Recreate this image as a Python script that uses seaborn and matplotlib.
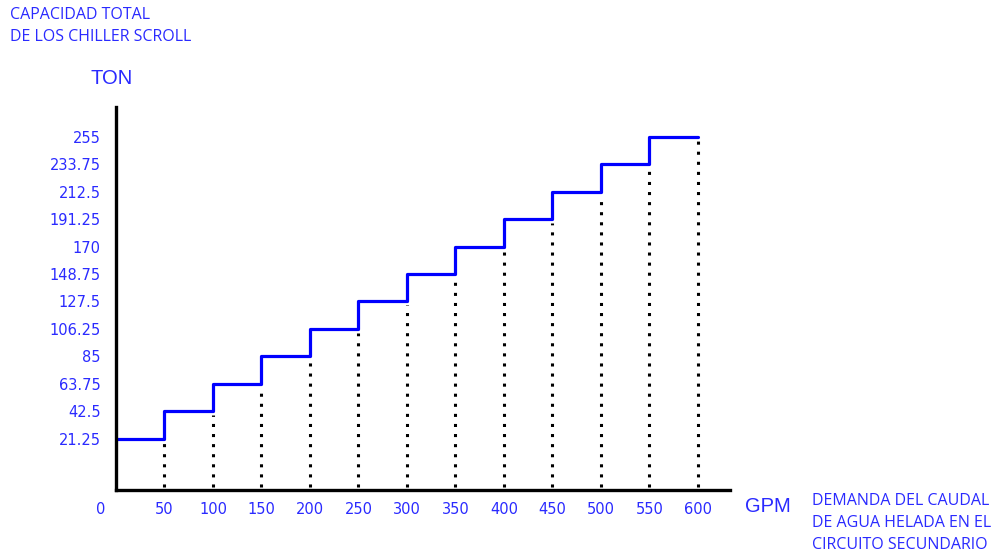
import matplotlib
matplotlib.use("Agg")
import matplotlib.pyplot as plt
import matplotlib.transforms as mtransforms
import seaborn as sns
import pandas as pd

# Data
gpm = [0, 50, 100, 150, 200, 250, 300, 350, 400, 450, 500, 550, 600]
ton_levels = [21.25, 42.5, 63.75, 85, 106.25, 127.5, 148.75, 170, 191.25, 212.5, 233.75, 255]
x_tick_labels = ["0", "50", "100", "150", "200", "250", "300", "350", "400", "450", "500", "550", "600"]
y_tick_labels = ["21.25", "42.5", "63.75", "85", "106.25", "127.5", "148.75", "170", "191.25", "212.5", "233.75", "255"]

sns.set_style("white")
plt.rcParams["font.family"] = ["DejaVu Sans"]

BLUE_TXT = "#2a2aff"

fig = plt.figure(figsize=(9.97, 5.56), dpi=100)
ax = fig.add_axes([116 / 997, 1 - 490 / 556, (730 - 116) / 997, (490 - 107) / 556])

df = pd.DataFrame({"gpm": gpm, "ton": ton_levels + [ton_levels[-1]]})
sns.lineplot(data=df, x="gpm", y="ton", ax=ax, drawstyle="steps-post",
             estimator=None, color="#0000ff", linewidth=2.3)

ymin = -18.5
ax.set_xlim(0, 633)
ax.set_ylim(ymin, 278)

# dotted drop lines
for xv, lv in zip(gpm[1:], ton_levels):
    ax.vlines(xv, ymin + 2.5, lv - 3, colors="black", linestyles=(0, (1, 2.3)), linewidth=2.2)

ax.set_xticks(gpm)
ax.set_xticklabels(x_tick_labels)
ax.set_yticks(ton_levels)
ax.set_yticklabels(y_tick_labels)
ax.tick_params(axis="both", length=0, labelcolor=BLUE_TXT, labelsize=10.5)
ax.tick_params(axis="y", pad=11)
ax.tick_params(axis="x", pad=9)
ax.set_xlabel("")
ax.set_ylabel("")

# shift the "0" label left
off = mtransforms.ScaledTranslation(-15 / 100, 0, fig.dpi_scale_trans)
lbl0 = ax.get_xticklabels()[0]
lbl0.set_transform(lbl0.get_transform() + off)

for s in ["top", "right"]:
    ax.spines[s].set_visible(False)
for s in ["left", "bottom"]:
    ax.spines[s].set_color("black")
    ax.spines[s].set_linewidth(2.4)

side_font = ["Open Sans", "DejaVu Sans"]
fig.text(10 / 997, 1 - 7 / 556, "CAPACIDAD TOTAL\nDE LOS CHILLER SCROLL", color=BLUE_TXT,
         fontsize=11.5, va="top", ha="left", linespacing=1.5, family=side_font)
fig.text(112 / 997, 1 - 79 / 556, "TON", color=BLUE_TXT, fontsize=14.5,
         va="center", ha="center", family=["Liberation Sans", "DejaVu Sans"])
fig.text(768 / 997, 1 - 507 / 556, "GPM", color=BLUE_TXT, fontsize=14.5,
         va="center", ha="center", family=["Liberation Sans", "DejaVu Sans"])
fig.text(812 / 997, 1 - 493 / 556, "DEMANDA DEL CAUDAL\nDE AGUA HELADA EN EL\nCIRCUITO SECUNDARIO",
         color=BLUE_TXT, fontsize=11.5, va="top", ha="left", linespacing=1.5, family=side_font)

fig.savefig("out.png", dpi=100)
